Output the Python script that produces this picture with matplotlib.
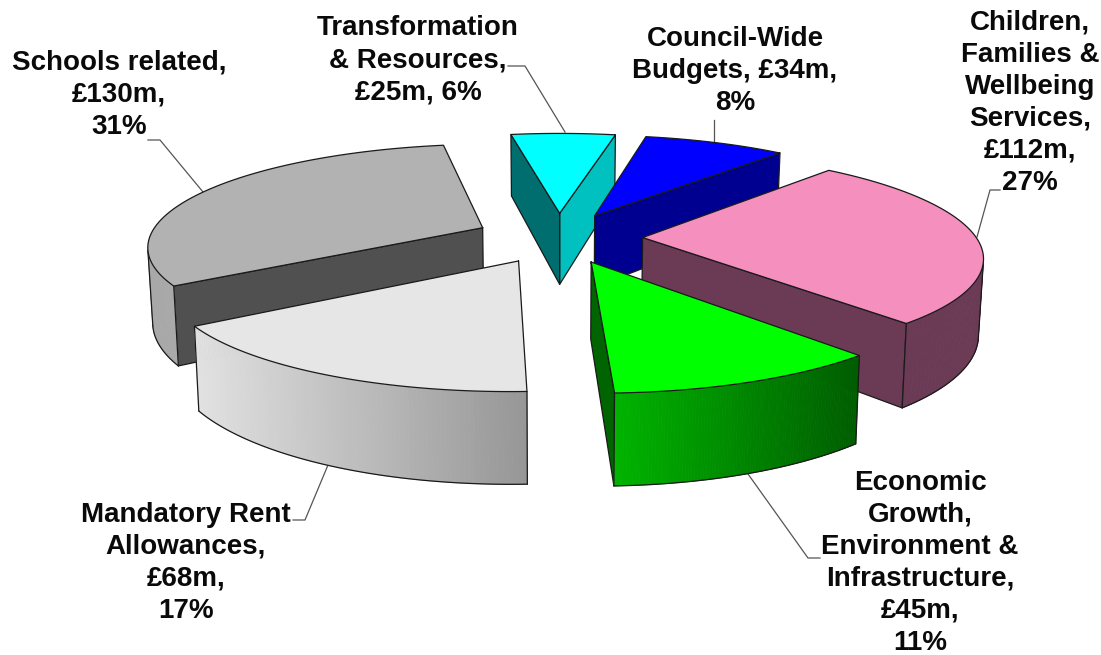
import numpy as np
import matplotlib
matplotlib.use("Agg")
import matplotlib.pyplot as plt
from matplotlib.colors import to_rgb

plt.rcParams['font.family'] = ['Liberation Sans', 'DejaVu Sans']

# --- data -----------------------------------------------------------------
categories = ["Children, Families & Wellbeing Services",
              "Economic Growth, Environment & Infrastructure",
              "Mandatory Rent Allowances", "Schools related",
              "Transformation & Resources", "Council-Wide Budgets"]
values = [112, 45, 68, 130, 25, 34]
labels = ["Children,\nFamilies &\nWellbeing\nServices,\n£112m,\n27%",
          "Economic\nGrowth,\nEnvironment &\nInfrastructure,\n£45m,\n11%",
          "Mandatory Rent\nAllowances,\n£68m,\n17%",
          "Schools related,\n£130m,\n31%",
          "Transformation\n& Resources,\n£25m, 6%",
          "Council-Wide\nBudgets, £34m,\n8%"]

# --- styles ---------------------------------------------------------------
top_colors = ['#F48FBE', '#00FF00', '#E6E6E6', '#B2B2B2', '#00FFFF', '#0000FF']
start_wall = ['#6B3A55', '#006400', '#A0A0A0', '#505050', '#006E6E', '#000090']
end_wall = ['#6B3A55', '#006400', '#A0A0A0', '#505050', '#00C0C0', '#000090']
arc_left = ['#6B3A55', '#00B400', '#E2E2E2', '#A8A8A8', '#00C0C0', '#000090']
arc_right = ['#6B3A55', '#005C00', '#969696', '#B0B0B0', '#00C0C0', '#000090']
draw_order = [4, 5, 0, 1, 3, 2]

# --- projection of the exploded pie --------------------------------------
cx, cy, Rx, Ry, pers, explode, start = 558.6, 237.6, 333.6, 100.4, 0.165, 0.252, 0.719
depth, taper = 74.0, 0.012


def project(x, y, z=0.0):
    s = 1 / (1 - pers * y)
    return cx + Rx * x * s * (1 - taper * z), cy + (Ry * y + depth * z) * s


def area(poly):
    p = np.asarray(poly)
    return 0.5 * np.sum(p[:, 0] * np.roll(p[:, 1], -1) - np.roll(p[:, 0], -1) * p[:, 1])


fig = plt.figure(figsize=(11.01, 6.55), dpi=100)
ax = fig.add_axes([0, 0, 1, 1])
ax.set_xlim(0, 1101)
ax.set_ylim(655, 0)
ax.axis('off')

edges = np.r_[0, np.cumsum(values)] / np.sum(values) * 2 * np.pi + start
OUT = dict(color='#1a1a1a', lw=0.9, solid_joinstyle='round', solid_capstyle='round')

for order, i in enumerate(draw_order):
    z = 10 * (order + 1)
    t0, t1 = edges[i], edges[i + 1]
    mid = (t0 + t1) / 2
    ox, oy = explode * np.sin(mid), -explode * np.cos(mid)
    tt = np.linspace(t0, t1, 90)
    arc_x = ox + np.sin(tt)
    arc_y = oy - np.cos(tt)
    top = np.array([project(ox, oy)] + [project(a, b) for a, b in zip(arc_x, arc_y)])
    bot = np.array([project(ox, oy, 1)] + [project(a, b, 1) for a, b in zip(arc_x, arc_y)])
    sign = np.sign(area(top))

    # radial walls (the two cut faces)
    for j, col, want in ((1, start_wall[i], -1), (-1, end_wall[i], 1)):
        q = np.array([top[0], top[j], bot[j], bot[0]])
        if area(q) * sign * want > 0:
            ax.fill(q[:, 0], q[:, 1], fc=col, ec='none', zorder=z)
            ax.plot(np.r_[q[:, 0], q[0, 0]], np.r_[q[:, 1], q[0, 1]], zorder=z + 1, **OUT)

    # outer curved wall, painted as narrow strips for the shading
    umin, umax = top[1:, 0].min(), top[1:, 0].max()
    c_left, c_right = np.array(to_rgb(arc_left[i])), np.array(to_rgb(arc_right[i]))
    seen = []
    for k in range(1, len(top) - 1):
        q = np.array([top[k], top[k + 1], bot[k + 1], bot[k]])
        if area(q) * sign < 0:
            f = (q[:, 0].mean() - umin) / (umax - umin)
            col = c_left * (1 - f) + c_right * f
            ax.fill(q[:, 0], q[:, 1], fc=col, ec=col, lw=0.6, zorder=z + 2)
            seen.append(k)
    if seen:
        k0, k1 = seen[0], seen[-1] + 1
        ax.plot(bot[k0:k1 + 1, 0], bot[k0:k1 + 1, 1], zorder=z + 3, **OUT)
        ax.plot([top[k0, 0], bot[k0, 0]], [top[k0, 1], bot[k0, 1]], zorder=z + 3, **OUT)
        ax.plot([top[k1, 0], bot[k1, 0]], [top[k1, 1], bot[k1, 1]], zorder=z + 3, **OUT)

    ax.fill(top[:, 0], top[:, 1], fc=top_colors[i], ec='none', zorder=z + 4)
    ax.plot(np.r_[top[:, 0], top[0, 0]], np.r_[top[:, 1], top[0, 1]], zorder=z + 5, **OUT)

# --- labels and leader lines ---------------------------------------------
label_xy = [(1030, 103), (920, 563), (186, 563), (119, 95), (418, 60), (735, 71)]
leaders = [[(1000, 190), (990, 190), (977, 237)],
           [(748, 474), (808, 558), (820, 558)],
           [(328, 465), (305, 520), (293, 520)],
           [(148, 140), (160, 140), (203, 192)],
           [(508, 66), (525, 66), (565, 132)],
           [(714, 120), (714, 142)]]
for txt, (x, y), path in zip(labels, label_xy, leaders):
    ax.text(x, y, txt, ha='center', va='center', multialignment='center', zorder=100,
            fontsize=20, fontweight='bold', color='#0a0a0a', linespacing=1.3)
    p = np.array(path)
    ax.plot(p[:, 0], p[:, 1], color='#555555', lw=0.9, zorder=5)

fig.savefig("out.png", dpi=100)
